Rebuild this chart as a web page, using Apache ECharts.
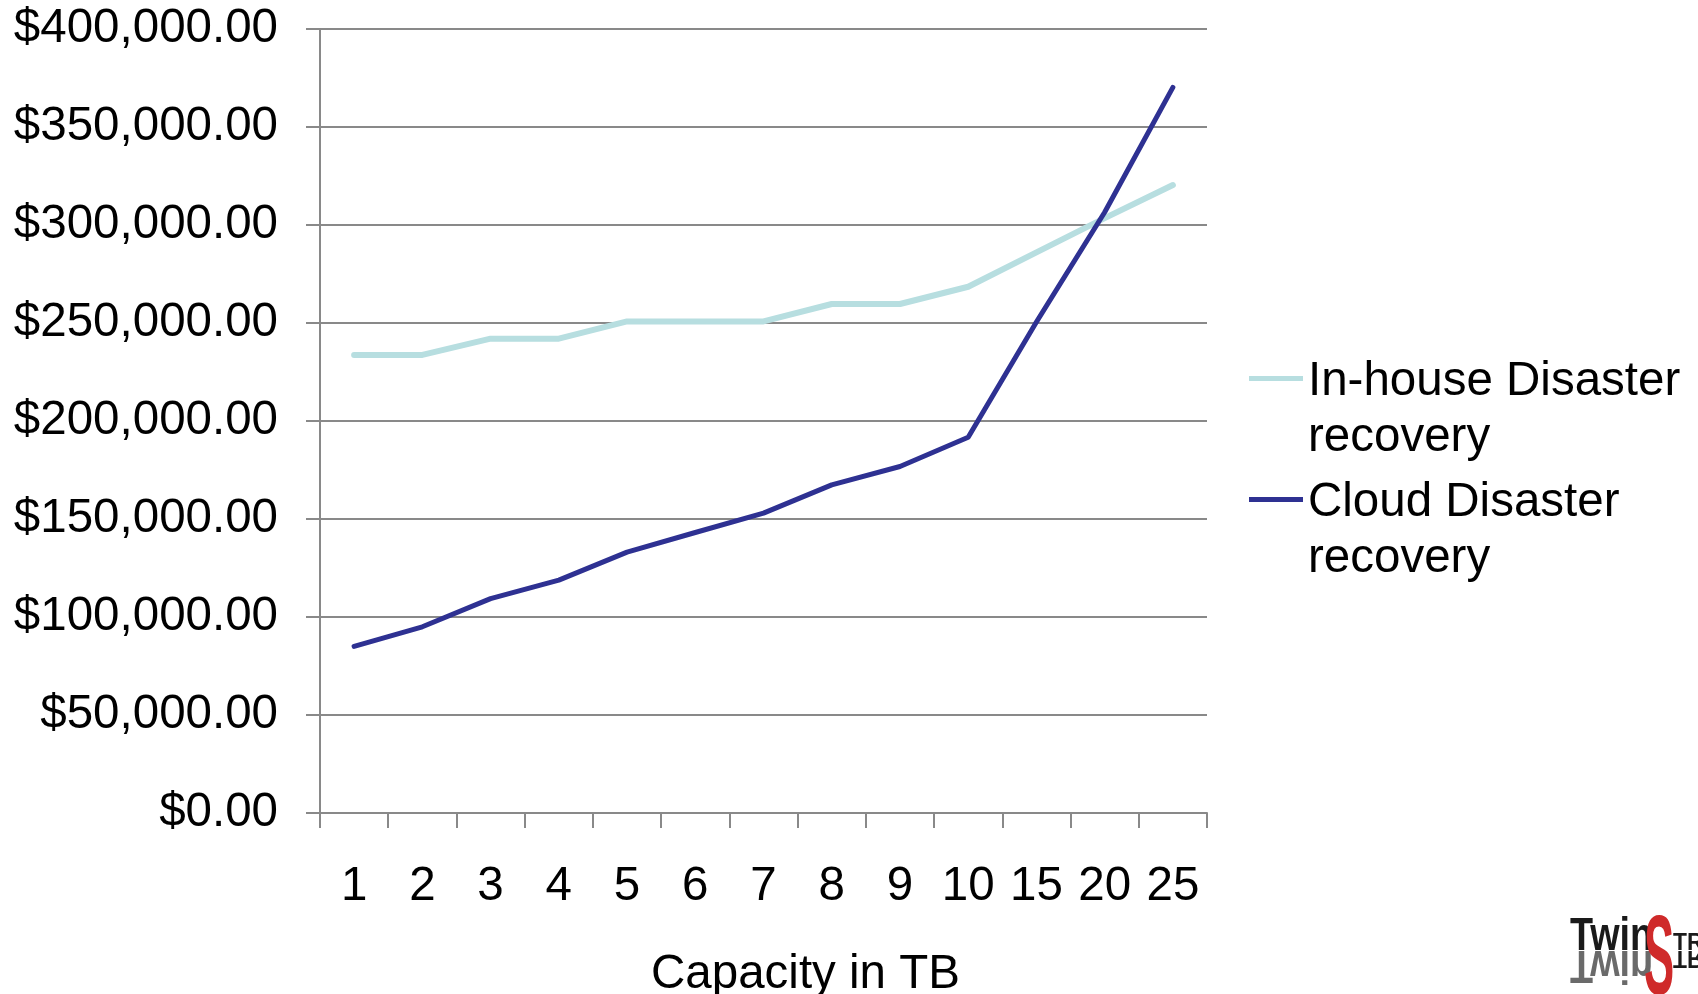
<!DOCTYPE html>
<html><head><meta charset="utf-8">
<script src="https://cdn.jsdelivr.net/npm/echarts@6/dist/echarts.min.js"></script>
<style>html,body{margin:0;padding:0;background:#fff}#c{width:1698px;height:994px}</style>
</head><body><div id="c"></div>
<script>
const categories = ['1','2','3','4','5','6','7','8','9','10','15','20','25'];
const seriesNames = ['In-house Disaster recovery', 'Cloud Disaster recovery'];
const legendLabels = ['In-house Disaster\nrecovery', 'Cloud Disaster\nrecovery'];
const inHouse = [233700, 233700, 242000, 242000, 250800, 250800, 250800, 259700, 259700, 268500, 286000, 303500, 320400];
const cloud = [85000, 95000, 109400, 118800, 133100, 143100, 153000, 167400, 176800, 191700, 250500, 306500, 370200];
const yMin = 0, yMax = 400000, yStep = 50000;
const axisNameX = 'Capacity in TB';
const logoParts = ['Twin', 'S', 'TR'];

const FONT = '"Liberation Sans", Arial, sans-serif';
const NARROW = '"Liberation Sans Narrow", "Liberation Sans", Arial, sans-serif';
const GRID_COLOR = '#898989';
const FS = 47.5;
const chart = echarts.init(document.getElementById('c'));

function money(v) {
  return '$' + Number(v).toLocaleString('en-US', {minimumFractionDigits: 2, maximumFractionDigits: 2});
}

// logo styling (positions/sizes only)
const logoColor = ['#1a1a1a', '#cf2a2a', '#1a1a1a'];
const logoReflColor = ['#6a6a6a', null, '#1a1a1a'];
const logoX = [1570, 1644, 1673];
const logoY = [914.2, 906, 931.5];
const logoReflY = [987, null, 969.5];
const logoSize = [46, 113, 24];
const logoWeight = ['bold', 'bold', 'bold'];
const logoScale = [0.82, 0.4, 0.95];
const graphics = [];
logoParts.forEach((t, i) => {
  graphics.push({
    type: 'text', x: logoX[i], y: logoY[i], scaleX: logoScale[i], silent: true, z: 100,
    style: { text: t, fontFamily: NARROW, fontWeight: logoWeight[i], fontSize: logoSize[i], fill: logoColor[i], verticalAlign: 'top' }
  });
  if (logoReflY[i] !== null) {
    graphics.push({
      type: 'text', x: logoX[i], y: logoReflY[i], scaleX: logoScale[i], scaleY: -1, silent: true, z: 99,
      style: { text: t, fontFamily: NARROW, fontWeight: logoWeight[i], fontSize: logoSize[i], fill: logoReflColor[i], verticalAlign: 'top' }
    });
  }
});

const option = {
  animation: false,
  backgroundColor: '#ffffff',
  grid: { left: 320, right: 491, top: 29, bottom: 181, containLabel: false, outerBoundsMode: 'none' },
  legend: {
    orient: 'vertical', left: 1244, top: 349,
    itemWidth: 54, itemHeight: 112, itemGap: 9,
    symbolKeepAspect: false,
    icon: 'path://M0,22H54V27H0Z M0,0H0.01V0.01H0Z M0,112H0.01V112.01H0Z',
    itemStyle: { borderWidth: 0 },
    textStyle: { fontFamily: FONT, fontSize: FS, lineHeight: 56, color: '#000' },
    formatter: function (name) { return legendLabels[seriesNames.indexOf(name)]; },
    data: seriesNames
  },
  xAxis: {
    type: 'category', data: categories, boundaryGap: true,
    name: axisNameX, nameLocation: 'middle', nameGap: 138,
    nameTextStyle: { fontFamily: FONT, fontSize: FS, color: '#000', padding: [0, 0, 0, 84] },
    axisLine: { lineStyle: { color: GRID_COLOR, width: 2 } },
    axisTick: { show: true, length: 15, alignWithLabel: false, lineStyle: { color: GRID_COLOR, width: 2 } },
    axisLabel: { fontFamily: FONT, fontSize: FS, color: '#000', margin: 50, interval: 0 },
    splitLine: { show: false }
  },
  yAxis: {
    type: 'value', min: yMin, max: yMax, interval: yStep,
    axisLine: { show: true, lineStyle: { color: GRID_COLOR, width: 2 } },
    axisTick: { show: true, length: 14, lineStyle: { color: GRID_COLOR, width: 2 } },
    axisLabel: { fontFamily: FONT, fontSize: FS, color: '#000', margin: 42, formatter: money },
    splitLine: { show: true, lineStyle: { color: GRID_COLOR, width: 2 } }
  },
  series: [
    {
      name: seriesNames[0], type: 'line', data: inHouse, showSymbol: false, symbol: 'none',
      color: '#b7dee0',
      lineStyle: { color: '#b7dee0', width: 6, cap: 'round', join: 'round' }
    },
    {
      name: seriesNames[1], type: 'line', data: cloud, showSymbol: false, symbol: 'none',
      color: '#2e3192',
      lineStyle: { color: '#2e3192', width: 5, cap: 'round', join: 'round' }
    }
  ],
  graphic: graphics
};
chart.setOption(option);
</script>
</body></html>
